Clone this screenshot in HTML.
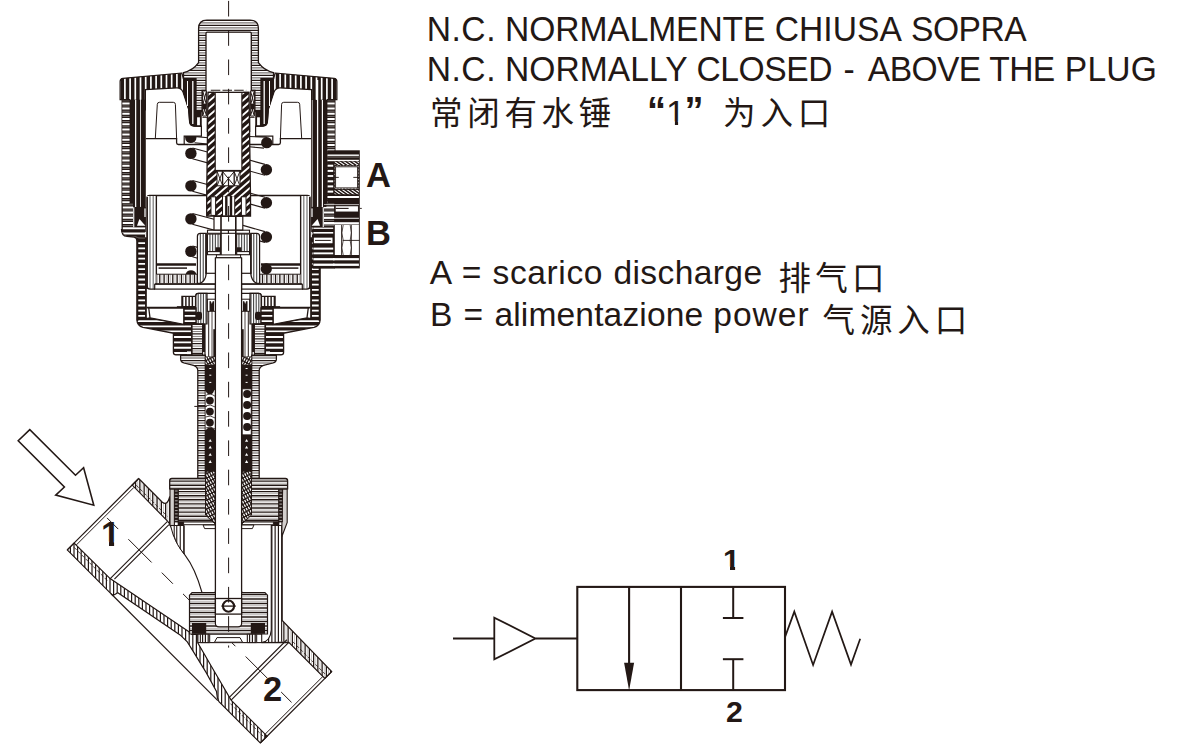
<!DOCTYPE html>
<html lang="it">
<head>
<meta charset="utf-8">
<title>N.C. NORMALMENTE CHIUSA SOPRA</title>
<style>
html,body{margin:0;padding:0;background:#fff;}
body{width:1185px;height:749px;overflow:hidden;position:relative;font-family:"Liberation Sans","Noto Sans CJK SC",sans-serif;color:#231815;}
svg{position:absolute;left:0;top:0;display:block;}
.t{position:absolute;white-space:nowrap;line-height:1;margin:0;}
.cj{font-family:"Noto Sans CJK SC","WenQuanYi Zen Hei",sans-serif;font-weight:400;}
.lb{font-family:"Liberation Sans",sans-serif;font-weight:700;}
.ln{position:absolute;left:0;width:1185px;height:1em;line-height:1;white-space:nowrap;margin:0;transform-origin:0 0;}
.ln .w{position:absolute;top:0;white-space:nowrap;}
</style>
</head>
<body>
<svg width="1185" height="749" viewBox="0 0 1185 749" fill="none" stroke="#231815" stroke-width="1.2" stroke-linejoin="miter">

<polygon points="29.8,429.6 18.2,440.8 64.4,487 55.7,495.1 93.8,505.2 83.6,467.7 75.5,475.2" fill="#fff" stroke="#231815" stroke-width="1.55" />
<clipPath id="c1"><path d="M138.67,478.53 L162.36,502.22 Q167.5,506 169.8,496.5 L169.8,524 L167.52,521.1 L132.16,485.04 Z"/></clipPath>
<path d="M138.67,478.53 L162.36,502.22 Q167.5,506 169.8,496.5 L169.8,524 L167.52,521.1 L132.16,485.04 Z" fill="#231815" stroke="none" />
<path d="M129.1,477V526M133.4,477V526M137.7,477V526M142,477V526M146.3,477V526M150.6,477V526M154.9,477V526M159.2,477V526M163.5,477V526M167.8,477V526M172.1,477V526" fill="none" stroke="#fff" stroke-width="3" clip-path="url(#c1)"/>
<path d="M129.1,477V526M133.4,477V526M137.7,477V526M142,477V526M146.3,477V526M150.6,477V526M154.9,477V526M159.2,477V526M163.5,477V526M167.8,477V526M172.1,477V526" fill="none" stroke="#b5b0ae" stroke-width="0.7" clip-path="url(#c1)"/>
<path d="M138.67,478.53 L162.36,502.22 Q167.5,506 169.8,496.5 L169.8,524 L167.52,521.1 L132.16,485.04 Z" fill="none" stroke="#231815" stroke-width="1.15" />
<clipPath id="c2"><path d="M67.25,549.95L112.86,595.56L115.2,594.3L117.8,592.8L180.1,634.9L187.3,641.9L193.2,651.4L206.2,672.6L216.5,691.5L217.3,697.5L218.93,701.62L260.29,742.99L267.15,736.13L231.09,700.07L210.9,665.5L197.9,643.1L197.9,634.5L192,634.5L189.3,631.9L110.1,578.6L74.11,543.09Z"/></clipPath>
<path d="M67.25,549.95L112.86,595.56L115.2,594.3L117.8,592.8L180.1,634.9L187.3,641.9L193.2,651.4L206.2,672.6L216.5,691.5L217.3,697.5L218.93,701.62L260.29,742.99L267.15,736.13L231.09,700.07L210.9,665.5L197.9,643.1L197.9,634.5L192,634.5L189.3,631.9L110.1,578.6L74.11,543.09Z" fill="#231815" stroke="none" />
<path d="M65,543V745M68.6,543V745M72.2,543V745M75.8,543V745M79.4,543V745M83,543V745M86.6,543V745M90.2,543V745M93.8,543V745M97.4,543V745M101,543V745M104.6,543V745M108.2,543V745M111.8,543V745M115.4,543V745M119,543V745M122.6,543V745M126.2,543V745M129.8,543V745M133.4,543V745M137,543V745M140.6,543V745M144.2,543V745M147.8,543V745M151.4,543V745M155,543V745M158.6,543V745M162.2,543V745M165.8,543V745M169.4,543V745M173,543V745M176.6,543V745M180.2,543V745M183.8,543V745M187.4,543V745M191,543V745M194.6,543V745M198.2,543V745M201.8,543V745M205.4,543V745M209,543V745M212.6,543V745M216.2,543V745M219.8,543V745M223.4,543V745M227,543V745M230.6,543V745M234.2,543V745M237.8,543V745M241.4,543V745M245,543V745M248.6,543V745M252.2,543V745M255.8,543V745M259.4,543V745M263,543V745" fill="none" stroke="#fff" stroke-width="2.4" clip-path="url(#c2)"/>
<path d="M67.25,549.95L112.86,595.56L115.2,594.3L117.8,592.8L180.1,634.9L187.3,641.9L193.2,651.4L206.2,672.6L216.5,691.5L217.3,697.5L218.93,701.62L260.29,742.99L267.15,736.13L231.09,700.07L210.9,665.5L197.9,643.1L197.9,634.5L192,634.5L189.3,631.9L110.1,578.6L74.11,543.09Z" fill="none" stroke="#231815" stroke-width="1.15" />
<line x1="111.09" y1="593.79" x2="217.86" y2="700.56" stroke="#231815" stroke-width="1.2" />
<clipPath id="c3"><path d="M271.3,525.5 L282.2,525.5 L282.2,620.5 L282.2,634 L289.5,641.5 L261.7,642.6 Q270.3,641.5 271.3,630 Z"/></clipPath>
<path d="M271.3,525.5 L282.2,525.5 L282.2,620.5 L282.2,634 L289.5,641.5 L261.7,642.6 Q270.3,641.5 271.3,630 Z" fill="#231815" stroke="none" />
<path d="M260.42,524V644M263.69,524V644M266.96,524V644M270.23,524V644M273.5,524V644M276.77,524V644M280.04,524V644M283.31,524V644M286.58,524V644M289.85,524V644M293.12,524V644" fill="none" stroke="#fff" stroke-width="2.1" clip-path="url(#c3)"/>
<clipPath id="c4"><path d="M282.2,620.5 L331.71,671.57 L324.85,678.43 L288.79,642.37 L282.2,641.6 Z"/></clipPath>
<path d="M282.2,620.5 L331.71,671.57 L324.85,678.43 L288.79,642.37 L282.2,641.6 Z" fill="#231815" stroke="none" />
<path d="M281.75,619V679M286,619V679M290.25,619V679M294.5,619V679M298.75,619V679M303,619V679M307.25,619V679M311.5,619V679M315.75,619V679M320,619V679M324.25,619V679M328.5,619V679M332.75,619V679M337,619V679" fill="none" stroke="#fff" stroke-width="3" clip-path="url(#c4)"/>
<path d="M281.75,619V679M286,619V679M290.25,619V679M294.5,619V679M298.75,619V679M303,619V679M307.25,619V679M311.5,619V679M315.75,619V679M320,619V679M324.25,619V679M328.5,619V679M332.75,619V679M337,619V679" fill="none" stroke="#b5b0ae" stroke-width="0.7" clip-path="url(#c4)"/>
<path d="M271.3,525.5 L282.2,525.5 L282.2,620.5 L331.71,671.57 L324.85,678.43 L288.79,642.37 L261.7,642.6 Q270.3,641.5 271.3,630 Z" fill="none" stroke="#231815" stroke-width="1.15" />
<line x1="136.26" y1="485.18" x2="167.38" y2="516.29" stroke="#231815" stroke-width="0.8" stroke-dasharray="3.6,1.8"/>
<line x1="74.11" y1="547.33" x2="107.34" y2="580.57" stroke="#231815" stroke-width="0.8" stroke-dasharray="3.6,1.8"/>
<line x1="292.54" y1="641.45" x2="325.06" y2="673.98" stroke="#231815" stroke-width="0.8" stroke-dasharray="3.6,1.8"/>
<line x1="230.38" y1="703.6" x2="262.91" y2="736.13" stroke="#231815" stroke-width="0.8" stroke-dasharray="3.6,1.8"/>
<line x1="67.25" y1="549.95" x2="138.67" y2="478.53" stroke="#231815" stroke-width="1.2" />
<line x1="76.16" y1="545.14" x2="133.86" y2="487.44" stroke="#231815" stroke-width="1" />
<line x1="260.29" y1="742.99" x2="331.71" y2="671.57" stroke="#231815" stroke-width="1.2" />
<line x1="265.17" y1="734.15" x2="322.87" y2="676.45" stroke="#231815" stroke-width="1" />
<line x1="109.96" y1="578.94" x2="167.24" y2="521.66" stroke="#231815" stroke-width="1.1" />
<line x1="114.42" y1="579.15" x2="168.93" y2="524.63" stroke="#231815" stroke-width="1.1" />
<line x1="231.09" y1="700.07" x2="288.79" y2="642.37" stroke="#231815" stroke-width="1.1" />
<line x1="229.53" y1="697.1" x2="286.88" y2="639.75" stroke="#231815" stroke-width="1.1" />
<path d="M169.8,524 L171.2,528 Q174,541 185.2,555.4 Q195,568 202,592.5" fill="none" stroke="#231815" stroke-width="1.1" />
<clipPath id="c5"><path d="M174.2,525.5 L184.2,525.5 L184.2,554 Q176,544 174.2,536 Z"/></clipPath>
<path d="M174.2,525.5 L184.2,525.5 L184.2,554 Q176,544 174.2,536 Z" fill="#231815" stroke="none" />
<path d="M171.5,524V556M175,524V556M178.5,524V556M182,524V556M185.5,524V556" fill="none" stroke="#fff" stroke-width="2.4" clip-path="url(#c5)"/>
<path d="M174.2,525.5 L184.2,525.5 L184.2,554 Q176,544 174.2,536 Z" fill="none" stroke="#231815" stroke-width="1" />
<line x1="107.06" y1="517.92" x2="118.23" y2="529.09" stroke="#231815" stroke-width="1" />
<line x1="128.35" y1="539.2" x2="151.61" y2="562.46" stroke="#231815" stroke-width="1" />
<line x1="161.79" y1="572.65" x2="172.89" y2="583.75" stroke="#231815" stroke-width="1" />
<line x1="183" y1="593.86" x2="194.11" y2="604.96" stroke="#231815" stroke-width="1" />
<line x1="204.01" y1="614.86" x2="214.4" y2="625.26" stroke="#231815" stroke-width="1" />
<line x1="224.51" y1="635.37" x2="235.4" y2="646.26" stroke="#231815" stroke-width="1" />
<line x1="245.65" y1="656.51" x2="267.36" y2="678.22" stroke="#231815" stroke-width="1" />
<line x1="281.15" y1="692.01" x2="291.55" y2="702.4" stroke="#231815" stroke-width="1" />
<rect x="170" y="488.9" width="4.4" height="36.6" fill="#d3cfcd" stroke="#231815" stroke-width="1.1" />
<path d="M287.2,488.9 L287.2,522.5 L281.9,536.5 L281.9,525.5 L282.6,488.9 Z" fill="#d3cfcd" stroke="#231815" stroke-width="1.1" />
<clipPath id="c6"><path d="M174.6,489.5H178.3V522H174.6Z"/></clipPath>
<path d="M174.6,489.5H178.3V522H174.6Z" fill="#231815" stroke="none" />
<path d="M173,487.73H180M173,491H180M173,494.27H180M173,497.54H180M173,500.81H180M173,504.08H180M173,507.35H180M173,510.62H180M173,513.89H180M173,517.16H180M173,520.43H180M173,523.7H180" fill="none" stroke="#fff" stroke-width="0.8" clip-path="url(#c6)" stroke-opacity="0.8"/>
<path d="M174.6,489.5H178.3V522H174.6Z" fill="none" stroke="#231815" stroke-width="0.8" />
<clipPath id="c7"><path d="M278.7,489.5H282.4V522H278.7Z"/></clipPath>
<path d="M278.7,489.5H282.4V522H278.7Z" fill="#231815" stroke="none" />
<path d="M277,487.73H284M277,491H284M277,494.27H284M277,497.54H284M277,500.81H284M277,504.08H284M277,507.35H284M277,510.62H284M277,513.89H284M277,517.16H284M277,520.43H284M277,523.7H284" fill="none" stroke="#fff" stroke-width="0.8" clip-path="url(#c7)" stroke-opacity="0.8"/>
<path d="M278.7,489.5H282.4V522H278.7Z" fill="none" stroke="#231815" stroke-width="0.8" />
<clipPath id="c8"><path d="M169.7,488.9 L169.7,480.7 Q169.7,478.5 171.9,478.5 L285.4,478.5 Q287.6,478.5 287.6,480.7 L287.6,488.9 Z"/></clipPath>
<path d="M169.7,488.9 L169.7,480.7 Q169.7,478.5 171.9,478.5 L285.4,478.5 Q287.6,478.5 287.6,480.7 L287.6,488.9 Z" fill="#231815" stroke="none" />
<path d="M168,474.95H289M168,479.05H289M168,483.15H289M168,487.25H289M168,491.35H289" fill="none" stroke="#fff" stroke-width="2.7" clip-path="url(#c8)"/>
<path d="M168,474.95H289M168,479.05H289M168,483.15H289M168,487.25H289M168,491.35H289" fill="none" stroke="#a39e9c" stroke-width="0.8" clip-path="url(#c8)"/>
<path d="M169.7,488.9 L169.7,480.7 Q169.7,478.5 171.9,478.5 L285.4,478.5 Q287.6,478.5 287.6,480.7 L287.6,488.9 Z" fill="none" stroke="#231815" stroke-width="1.3" />
<clipPath id="c9"><path d="M178.3,489.3H278.7V522H178.3Z"/></clipPath>
<path d="M178.3,489.3H278.7V522H178.3Z" fill="#231815" stroke="none" />
<path d="M177,485.45H280M177,489.55H280M177,493.65H280M177,497.75H280M177,501.85H280M177,505.95H280M177,510.05H280M177,514.15H280M177,518.25H280M177,522.35H280M177,526.45H280" fill="none" stroke="#fff" stroke-width="2.7" clip-path="url(#c9)"/>
<path d="M177,485.45H280M177,489.55H280M177,493.65H280M177,497.75H280M177,501.85H280M177,505.95H280M177,510.05H280M177,514.15H280M177,518.25H280M177,522.35H280M177,526.45H280" fill="none" stroke="#a39e9c" stroke-width="0.8" clip-path="url(#c9)"/>
<path d="M178.3,489.3H278.7V522H178.3Z" fill="none" stroke="#231815" stroke-width="1.1" />
<rect x="177.7" y="521.4" width="5.9" height="4.1" fill="#231815" stroke="none" />
<rect x="273.4" y="521.4" width="5.9" height="4.1" fill="#231815" stroke="none" />
<rect x="183.6" y="522" width="89.8" height="2.7" fill="#fff" stroke="#231815" stroke-width="1" />
<polygon points="203.1,525 253.9,525 252.4,528.6 204.6,528.6" fill="#fff" stroke="#231815" stroke-width="1" />
<clipPath id="c10"><path d="M205.5,471 L215.5,471 L215.5,524.3 L205.5,515 Z"/></clipPath>
<path d="M205.5,471 L215.5,471 L215.5,524.3 L205.5,515 Z" fill="#231815" stroke="none" />
<path d="M224.87,455.94L252.99,508.83M222.66,457.11L250.78,510M220.46,458.29L248.58,511.18M218.25,459.46L246.37,512.35M216.04,460.63L244.16,513.52M213.83,461.81L241.96,514.7M211.63,462.98L239.75,515.87M209.42,464.15L237.54,517.04M207.21,465.33L235.33,518.22M205,466.5L233.13,519.39M202.8,467.67L230.92,520.56M200.59,468.85L228.71,521.74M198.38,470.02L226.5,522.91M196.17,471.2L224.3,524.09M193.97,472.37L222.09,525.26M191.76,473.54L219.88,526.43M189.55,474.72L217.67,527.61M187.34,475.89L215.47,528.78M185.14,477.06L213.26,529.95M182.93,478.24L211.05,531.13M180.72,479.41L208.84,532.3M178.52,480.59L206.64,533.48M176.31,481.76L204.43,534.65M174.1,482.93L202.22,535.82M171.89,484.11L200.02,537M169.69,485.28L197.81,538.17M167.48,486.45L195.6,539.34" fill="none" stroke="#fff" stroke-width="1.25" clip-path="url(#c10)" stroke-dasharray="2.6,1.3"/>
<path d="M205.5,471 L215.5,471 L215.5,524.3 L205.5,515 Z" fill="none" stroke="#231815" stroke-width="1" />
<clipPath id="c11"><path d="M241.5,471 L251.5,471 L251.5,515 L241.5,524.3 Z"/></clipPath>
<path d="M241.5,471 L251.5,471 L251.5,515 L241.5,524.3 Z" fill="#231815" stroke="none" />
<path d="M260.87,455.94L288.99,508.83M258.66,457.11L286.78,510M256.46,458.29L284.58,511.18M254.25,459.46L282.37,512.35M252.04,460.63L280.16,513.52M249.83,461.81L277.96,514.7M247.63,462.98L275.75,515.87M245.42,464.15L273.54,517.04M243.21,465.33L271.33,518.22M241,466.5L269.13,519.39M238.8,467.67L266.92,520.56M236.59,468.85L264.71,521.74M234.38,470.02L262.5,522.91M232.17,471.2L260.3,524.09M229.97,472.37L258.09,525.26M227.76,473.54L255.88,526.43M225.55,474.72L253.67,527.61M223.34,475.89L251.47,528.78M221.14,477.06L249.26,529.95M218.93,478.24L247.05,531.13M216.72,479.41L244.84,532.3M214.52,480.59L242.64,533.48M212.31,481.76L240.43,534.65M210.1,482.93L238.22,535.82M207.89,484.11L236.02,537M205.69,485.28L233.81,538.17M203.48,486.45L231.6,539.34" fill="none" stroke="#fff" stroke-width="1.25" clip-path="url(#c11)" stroke-dasharray="2.6,1.3"/>
<path d="M241.5,471 L251.5,471 L251.5,515 L241.5,524.3 Z" fill="none" stroke="#231815" stroke-width="1" />
<clipPath id="c12"><path d="M181.9,296.3H195.8V306.6H181.9Z"/></clipPath>
<path d="M181.9,296.3H195.8V306.6H181.9Z" fill="#231815" stroke="none" />
<path d="M181,295V308M184.25,295V308M187.5,295V308M190.75,295V308M194,295V308M197.25,295V308" fill="none" stroke="#fff" stroke-width="1.8" clip-path="url(#c12)"/>
<path d="M181.9,296.3H195.8V306.6H181.9Z" fill="none" stroke="#231815" stroke-width="1.2" />
<clipPath id="c13"><path d="M184.5,307.8H196V324.3H184.5Z"/></clipPath>
<path d="M184.5,307.8H196V324.3H184.5Z" fill="#231815" stroke="none" />
<path d="M183,305.4H198M183,310.7H198M183,316H198M183,321.3H198M183,326.6H198" fill="none" stroke="#fff" stroke-width="2.2" clip-path="url(#c13)"/>
<path d="M184.5,307.8H196V324.3H184.5Z" fill="none" stroke="#231815" stroke-width="1" />
<rect x="176.9" y="306.2" width="19.1" height="2.8" fill="#231815" stroke="none" />
<path d="M195.8,324 L195.8,296 Q195.8,293.4 198.4,293.4 L215.6,293.4 L215.6,357 L205,357 L205,324 Z" fill="#fff" stroke="#231815" stroke-width="1.2" />
<clipPath id="c14"><path d="M195.8,324 L195.8,296 Q195.8,293.4 198.4,293.4 L207,293.4 L207,324 Z"/></clipPath>
<path d="M195.8,324 L195.8,296 Q195.8,293.4 198.4,293.4 L207,293.4 L207,324 Z" fill="#444" stroke="none" />
<path d="M194.3,292V326M196.9,292V326M199.5,292V326M202.1,292V326M204.7,292V326M207.3,292V326" fill="none" stroke="#fff" stroke-width="1.5" clip-path="url(#c14)"/>
<path d="M195.8,324 L195.8,296 Q195.8,293.4 198.4,293.4 L207,293.4 L207,324 Z" fill="none" stroke="#231815" stroke-width="1.2" />
<rect x="195.8" y="311.7" width="6.2" height="8.3" fill="#231815" stroke="none" rx="2.2" />
<rect x="207.4" y="299.2" width="8.1" height="12.1" fill="#fff" stroke="#231815" stroke-width="1" />
<path d="M209.5,301.2 L214,301.2 L214,311 L209.5,311 Z" fill="#231815" stroke="none" />
<path d="M210.7,300.6 L211.8,304 L212.9,300.6 Z" fill="#fff" stroke="none" />
<clipPath id="c15"><path d="M191.9,323.8H202.6V355H191.9Z"/></clipPath>
<path d="M191.9,323.8H202.6V355H191.9Z" fill="#231815" stroke="none" />
<path d="M190,321.85H204M190,326.7H204M190,331.55H204M190,336.4H204M190,341.25H204M190,346.1H204M190,350.95H204M190,355.8H204M190,360.65H204" fill="none" stroke="#fff" stroke-width="3.6" clip-path="url(#c15)"/>
<path d="M190,321.85H204M190,326.7H204M190,331.55H204M190,336.4H204M190,341.25H204M190,346.1H204M190,350.95H204M190,355.8H204M190,360.65H204" fill="none" stroke="#7a7371" stroke-width="0.9" clip-path="url(#c15)"/>
<path d="M191.9,323.8H202.6V355H191.9Z" fill="none" stroke="#231815" stroke-width="1.1" />
<rect x="202.8" y="323.6" width="2.2" height="28.4" fill="#231815" stroke="none" />
<line x1="208.7" y1="311" x2="208.7" y2="357" stroke="#231815" stroke-width="1" />
<line x1="212" y1="311" x2="212" y2="357" stroke="#231815" stroke-width="0.8" />
<rect x="213.3" y="329.2" width="2.3" height="27.8" fill="#231815" stroke="none" />
<clipPath id="c16"><path d="M173.4,333 L191.7,333 L191.7,354.8 L176,354.8 Q173.4,354.8 173.4,352.2 Z"/></clipPath>
<path d="M173.4,333 L191.7,333 L191.7,354.8 L176,354.8 Q173.4,354.8 173.4,352.2 Z" fill="#231815" stroke="none" />
<path d="M172,331.65H193M172,337H193M172,342.35H193M172,347.7H193M172,353.05H193M172,358.4H193" fill="none" stroke="#fff" stroke-width="1.9" clip-path="url(#c16)"/>
<path d="M173.4,333 L191.7,333 L191.7,354.8 L176,354.8 Q173.4,354.8 173.4,352.2 Z" fill="none" stroke="#231815" stroke-width="1.3" />
<rect x="187" y="351.4" width="4" height="2.8" fill="#fff" stroke="none" />
<clipPath id="c17"><path d="M180.6,355 L205.3,355 L205.3,478.4 L197.8,478.4 L197.8,370.5 Q197.6,367 193.5,365.4 L184,363 Q180.6,362 180.6,359 Z"/></clipPath>
<path d="M180.6,355 L205.3,355 L205.3,478.4 L197.8,478.4 L197.8,370.5 Q197.6,367 193.5,365.4 L184,363 Q180.6,362 180.6,359 Z" fill="#231815" stroke="none" />
<path d="M179,353H207M179,358H207M179,363H207M179,368H207M179,373H207M179,378H207M179,383H207M179,388H207M179,393H207M179,398H207M179,403H207M179,408H207M179,413H207M179,418H207M179,423H207M179,428H207M179,433H207M179,438H207M179,443H207M179,448H207M179,453H207M179,458H207M179,463H207M179,468H207M179,473H207M179,478H207M179,483H207" fill="none" stroke="#fff" stroke-width="3.75" clip-path="url(#c17)"/>
<path d="M179,353H207M179,358H207M179,363H207M179,368H207M179,373H207M179,378H207M179,383H207M179,388H207M179,393H207M179,398H207M179,403H207M179,408H207M179,413H207M179,418H207M179,423H207M179,428H207M179,433H207M179,438H207M179,443H207M179,448H207M179,453H207M179,458H207M179,463H207M179,468H207M179,473H207M179,478H207M179,483H207" fill="none" stroke="#5a5351" stroke-width="1" clip-path="url(#c17)"/>
<path d="M180.6,355 L205.3,355 L205.3,478.4 L197.8,478.4 L197.8,370.5 Q197.6,367 193.5,365.4 L184,363 Q180.6,362 180.6,359 Z" fill="none" stroke="#231815" stroke-width="1.25" />
<rect x="205.1" y="364.4" width="10.5" height="107.1" fill="#231815" stroke="none" />
<clipPath id="c18"><path d="M205.6,356.8H215.4V364.6H205.6Z"/></clipPath>
<path d="M205.6,356.8H215.4V364.6H205.6Z" fill="#231815" stroke="none" />
<path d="M217,346.73L225.55,362.81M214.79,347.91L223.34,363.99M212.58,349.08L221.13,365.16M210.37,350.25L218.93,366.33M208.17,351.43L216.72,367.51M205.96,352.6L214.51,368.68M203.75,353.77L212.3,369.85M201.55,354.95L210.1,371.03M199.34,356.12L207.89,372.2M197.13,357.3L205.68,373.38M194.92,358.47L203.47,374.55" fill="none" stroke="#fff" stroke-width="1.25" clip-path="url(#c18)" stroke-dasharray="2.6,1.3"/>
<g transform="translate(457,0) scale(-1,1)">
<clipPath id="n12"><path d="M181.9,296.3H195.8V306.6H181.9Z"/></clipPath>
<path d="M181.9,296.3H195.8V306.6H181.9Z" fill="#231815" stroke="none" />
<path d="M181,295V308M184.25,295V308M187.5,295V308M190.75,295V308M194,295V308M197.25,295V308" fill="none" stroke="#fff" stroke-width="1.8" clip-path="url(#n12)"/>
<path d="M181.9,296.3H195.8V306.6H181.9Z" fill="none" stroke="#231815" stroke-width="1.2" />
<clipPath id="n13"><path d="M184.5,307.8H196V324.3H184.5Z"/></clipPath>
<path d="M184.5,307.8H196V324.3H184.5Z" fill="#231815" stroke="none" />
<path d="M183,305.4H198M183,310.7H198M183,316H198M183,321.3H198M183,326.6H198" fill="none" stroke="#fff" stroke-width="2.2" clip-path="url(#n13)"/>
<path d="M184.5,307.8H196V324.3H184.5Z" fill="none" stroke="#231815" stroke-width="1" />
<rect x="176.9" y="306.2" width="19.1" height="2.8" fill="#231815" stroke="none" />
<path d="M195.8,324 L195.8,296 Q195.8,293.4 198.4,293.4 L215.6,293.4 L215.6,357 L205,357 L205,324 Z" fill="#fff" stroke="#231815" stroke-width="1.2" />
<clipPath id="n14"><path d="M195.8,324 L195.8,296 Q195.8,293.4 198.4,293.4 L207,293.4 L207,324 Z"/></clipPath>
<path d="M195.8,324 L195.8,296 Q195.8,293.4 198.4,293.4 L207,293.4 L207,324 Z" fill="#444" stroke="none" />
<path d="M194.3,292V326M196.9,292V326M199.5,292V326M202.1,292V326M204.7,292V326M207.3,292V326" fill="none" stroke="#fff" stroke-width="1.5" clip-path="url(#n14)"/>
<path d="M195.8,324 L195.8,296 Q195.8,293.4 198.4,293.4 L207,293.4 L207,324 Z" fill="none" stroke="#231815" stroke-width="1.2" />
<rect x="195.8" y="311.7" width="6.2" height="8.3" fill="#231815" stroke="none" rx="2.2" />
<rect x="207.4" y="299.2" width="8.1" height="12.1" fill="#fff" stroke="#231815" stroke-width="1" />
<path d="M209.5,301.2 L214,301.2 L214,311 L209.5,311 Z" fill="#231815" stroke="none" />
<path d="M210.7,300.6 L211.8,304 L212.9,300.6 Z" fill="#fff" stroke="none" />
<clipPath id="n15"><path d="M191.9,323.8H202.6V355H191.9Z"/></clipPath>
<path d="M191.9,323.8H202.6V355H191.9Z" fill="#231815" stroke="none" />
<path d="M190,321.85H204M190,326.7H204M190,331.55H204M190,336.4H204M190,341.25H204M190,346.1H204M190,350.95H204M190,355.8H204M190,360.65H204" fill="none" stroke="#fff" stroke-width="3.6" clip-path="url(#n15)"/>
<path d="M190,321.85H204M190,326.7H204M190,331.55H204M190,336.4H204M190,341.25H204M190,346.1H204M190,350.95H204M190,355.8H204M190,360.65H204" fill="none" stroke="#7a7371" stroke-width="0.9" clip-path="url(#n15)"/>
<path d="M191.9,323.8H202.6V355H191.9Z" fill="none" stroke="#231815" stroke-width="1.1" />
<rect x="202.8" y="323.6" width="2.2" height="28.4" fill="#231815" stroke="none" />
<line x1="208.7" y1="311" x2="208.7" y2="357" stroke="#231815" stroke-width="1" />
<line x1="212" y1="311" x2="212" y2="357" stroke="#231815" stroke-width="0.8" />
<rect x="213.3" y="329.2" width="2.3" height="27.8" fill="#231815" stroke="none" />
<clipPath id="n16"><path d="M173.4,333 L191.7,333 L191.7,354.8 L176,354.8 Q173.4,354.8 173.4,352.2 Z"/></clipPath>
<path d="M173.4,333 L191.7,333 L191.7,354.8 L176,354.8 Q173.4,354.8 173.4,352.2 Z" fill="#231815" stroke="none" />
<path d="M172,331.65H193M172,337H193M172,342.35H193M172,347.7H193M172,353.05H193M172,358.4H193" fill="none" stroke="#fff" stroke-width="1.9" clip-path="url(#n16)"/>
<path d="M173.4,333 L191.7,333 L191.7,354.8 L176,354.8 Q173.4,354.8 173.4,352.2 Z" fill="none" stroke="#231815" stroke-width="1.3" />
<rect x="187" y="351.4" width="4" height="2.8" fill="#fff" stroke="none" />
<clipPath id="n17"><path d="M180.6,355 L205.3,355 L205.3,478.4 L197.8,478.4 L197.8,370.5 Q197.6,367 193.5,365.4 L184,363 Q180.6,362 180.6,359 Z"/></clipPath>
<path d="M180.6,355 L205.3,355 L205.3,478.4 L197.8,478.4 L197.8,370.5 Q197.6,367 193.5,365.4 L184,363 Q180.6,362 180.6,359 Z" fill="#231815" stroke="none" />
<path d="M179,353H207M179,358H207M179,363H207M179,368H207M179,373H207M179,378H207M179,383H207M179,388H207M179,393H207M179,398H207M179,403H207M179,408H207M179,413H207M179,418H207M179,423H207M179,428H207M179,433H207M179,438H207M179,443H207M179,448H207M179,453H207M179,458H207M179,463H207M179,468H207M179,473H207M179,478H207M179,483H207" fill="none" stroke="#fff" stroke-width="3.75" clip-path="url(#n17)"/>
<path d="M179,353H207M179,358H207M179,363H207M179,368H207M179,373H207M179,378H207M179,383H207M179,388H207M179,393H207M179,398H207M179,403H207M179,408H207M179,413H207M179,418H207M179,423H207M179,428H207M179,433H207M179,438H207M179,443H207M179,448H207M179,453H207M179,458H207M179,463H207M179,468H207M179,473H207M179,478H207M179,483H207" fill="none" stroke="#5a5351" stroke-width="1" clip-path="url(#n17)"/>
<path d="M180.6,355 L205.3,355 L205.3,478.4 L197.8,478.4 L197.8,370.5 Q197.6,367 193.5,365.4 L184,363 Q180.6,362 180.6,359 Z" fill="none" stroke="#231815" stroke-width="1.25" />
<rect x="205.1" y="364.4" width="10.5" height="107.1" fill="#231815" stroke="none" />
<clipPath id="n18"><path d="M205.6,356.8H215.4V364.6H205.6Z"/></clipPath>
<path d="M205.6,356.8H215.4V364.6H205.6Z" fill="#231815" stroke="none" />
<path d="M217,346.73L225.55,362.81M214.79,347.91L223.34,363.99M212.58,349.08L221.13,365.16M210.37,350.25L218.93,366.33M208.17,351.43L216.72,367.51M205.96,352.6L214.51,368.68M203.75,353.77L212.3,369.85M201.55,354.95L210.1,371.03M199.34,356.12L207.89,372.2M197.13,357.3L205.68,373.38M194.92,358.47L203.47,374.55" fill="none" stroke="#fff" stroke-width="1.25" clip-path="url(#n18)" stroke-dasharray="2.6,1.3"/>
</g>
<path d="M205.6,391 Q210,396 215.2,389.5 L215.2,430.3 Q210,424 205.6,430.3 Z" fill="#fff" stroke="none" />
<circle cx="209.9" cy="390.2" r="3.9" fill="#231815" stroke="none"/>
<circle cx="209.9" cy="400.6" r="3.9" fill="#231815" stroke="none"/>
<circle cx="209.9" cy="411.6" r="3.9" fill="#231815" stroke="none"/>
<circle cx="209.9" cy="422.6" r="3.9" fill="#231815" stroke="none"/>
<path d="M205.6,395.5 Q210,392.5 215.2,396.3 M205.6,406 Q210,403.5 215.2,407 M205.6,417 Q210,414.5 215.2,418 M205.6,428 Q210,425.5 215.2,429" fill="none" stroke="#231815" stroke-width="0.8" />
<rect x="242.1" y="388.8" width="9.2" height="46.1" fill="#fff" stroke="#231815" stroke-width="1" />
<circle cx="247.1" cy="394.1" r="4" fill="#231815" stroke="none"/>
<circle cx="247.1" cy="405.1" r="4" fill="#231815" stroke="none"/>
<circle cx="247.1" cy="415.9" r="4" fill="#231815" stroke="none"/>
<circle cx="247.1" cy="427" r="4" fill="#231815" stroke="none"/>
<rect x="209.3" y="368" width="2" height="1" fill="#fff" stroke="none" />
<rect x="245.6" y="368" width="2" height="1" fill="#fff" stroke="none" />
<rect x="209.3" y="374.7" width="2" height="1" fill="#fff" stroke="none" />
<rect x="245.6" y="374.7" width="2" height="1" fill="#fff" stroke="none" />
<rect x="209.3" y="381.9" width="2" height="1" fill="#fff" stroke="none" />
<rect x="245.6" y="381.9" width="2" height="1" fill="#fff" stroke="none" />
<polygon points="210.2,439 208.6,441.8 211.8,441.8" fill="#fff" stroke="none" />
<polygon points="246.6,439 245,441.8 248.2,441.8" fill="#fff" stroke="none" />
<polygon points="210.2,445.8 208.6,448.6 211.8,448.6" fill="#fff" stroke="none" />
<polygon points="246.6,445.8 245,448.6 248.2,448.6" fill="#fff" stroke="none" />
<polygon points="210.2,452.9 208.6,455.7 211.8,455.7" fill="#fff" stroke="none" />
<polygon points="246.6,452.9 245,455.7 248.2,455.7" fill="#fff" stroke="none" />
<polygon points="210.2,460.1 208.6,462.9 211.8,462.9" fill="#fff" stroke="none" />
<polygon points="246.6,460.1 245,462.9 248.2,462.9" fill="#fff" stroke="none" />
<line x1="194.3" y1="406.4" x2="206.8" y2="406.4" stroke="#231815" stroke-width="1" />
<polygon points="196.8,136.6 208,137.6 208,144.2 195.3,142.9" fill="#fff" stroke="none" />
<clipPath id="fc1"><rect x="180" y="136.1" width="20" height="10"/></clipPath>
<circle cx="190.8" cy="137.4" r="5.7" fill="#231815" stroke="none" clip-path="url(#fc1)"/>
<line x1="196.3" y1="136.6" x2="208" y2="137.7" stroke="#231815" stroke-width="1.1" />
<line x1="194.5" y1="142.8" x2="208" y2="144.1" stroke="#231815" stroke-width="1.1" />
<polygon points="249,136.4 266.7,137 264,148.2 249,146.9" fill="#fff" stroke="none" />
<line x1="249" y1="136.5" x2="266.7" y2="137.1" stroke="#231815" stroke-width="1.1" />
<line x1="249" y1="146.8" x2="264" y2="148.1" stroke="#231815" stroke-width="1.1" />
<circle cx="266.7" cy="142.7" r="5.6" fill="#231815" stroke="none"/>
<path d="M185.6,274.3 A5.6,5.6 0 0 1 196.4,274.3 Z" fill="#231815" stroke="none" />
<circle cx="266.3" cy="268.9" r="5.6" fill="#231815" stroke="none"/>
<polygon points="192.4,147.8 214,153.7 214,164.5 192.4,158.7" fill="#fff" stroke="none" />
<line x1="192.4" y1="148" x2="214" y2="153.8" stroke="#231815" stroke-width="1.1" />
<line x1="192.4" y1="158.8" x2="214" y2="164.6" stroke="#231815" stroke-width="1.1" />
<circle cx="190.9" cy="153.4" r="5.7" fill="#231815" stroke="none"/>
<polygon points="192.4,180.3 214,186.2 214,197 192.4,191.2" fill="#fff" stroke="none" />
<line x1="192.4" y1="180.5" x2="214" y2="186.3" stroke="#231815" stroke-width="1.1" />
<line x1="192.4" y1="191.3" x2="214" y2="197.1" stroke="#231815" stroke-width="1.1" />
<circle cx="190.9" cy="185.9" r="5.7" fill="#231815" stroke="none"/>
<polygon points="192.4,213.3 214,219.2 214,230 192.4,224.2" fill="#fff" stroke="none" />
<line x1="192.4" y1="213.5" x2="214" y2="219.3" stroke="#231815" stroke-width="1.1" />
<line x1="192.4" y1="224.3" x2="214" y2="230.1" stroke="#231815" stroke-width="1.1" />
<circle cx="190.9" cy="218.9" r="5.7" fill="#231815" stroke="none"/>
<polygon points="192.4,245.8 197.6,247.3 197.6,258.1 192.4,256.7" fill="#fff" stroke="none" />
<line x1="192.4" y1="246" x2="197.6" y2="247.4" stroke="#231815" stroke-width="1.1" />
<line x1="192.4" y1="256.8" x2="197.6" y2="258.2" stroke="#231815" stroke-width="1.1" />
<circle cx="190.9" cy="251.4" r="5.7" fill="#231815" stroke="none"/>
<polygon points="243,157.9 264.9,164.2 264.9,175.2 243,169.3" fill="#fff" stroke="none" />
<line x1="243" y1="158.2" x2="264.9" y2="164.4" stroke="#231815" stroke-width="1.1" />
<line x1="243" y1="169.2" x2="264.9" y2="175.2" stroke="#231815" stroke-width="1.1" />
<circle cx="266.4" cy="169.8" r="5.7" fill="#231815" stroke="none"/>
<polygon points="243,190.8 264.9,197.1 264.9,208.1 243,202.2" fill="#fff" stroke="none" />
<line x1="243" y1="191.1" x2="264.9" y2="197.3" stroke="#231815" stroke-width="1.1" />
<line x1="243" y1="202.1" x2="264.9" y2="208.1" stroke="#231815" stroke-width="1.1" />
<circle cx="266.4" cy="202.7" r="5.7" fill="#231815" stroke="none"/>
<polygon points="243,225.1 264.9,231.4 264.9,242.4 243,236.5" fill="#fff" stroke="none" />
<line x1="243" y1="225.4" x2="264.9" y2="231.6" stroke="#231815" stroke-width="1.1" />
<line x1="243" y1="236.4" x2="264.9" y2="242.4" stroke="#231815" stroke-width="1.1" />
<circle cx="266.4" cy="237" r="5.7" fill="#231815" stroke="none"/>
<clipPath id="c19"><path d="M181.8,73 L123,78.3 Q120.1,78.6 120.1,81.5 L120.1,99.7 L129.6,99.7 L129.6,110 L145.4,110 L145.4,89.6 L176.9,87.9 Q181,87.8 183,92 L188.6,109 L189.6,122 Q190,126 194,126 L201,126.3 L201,79 L183.5,79 Z"/></clipPath>
<path d="M181.8,73 L123,78.3 Q120.1,78.6 120.1,81.5 L120.1,99.7 L129.6,99.7 L129.6,110 L145.4,110 L145.4,89.6 L176.9,87.9 Q181,87.8 183,92 L188.6,109 L189.6,122 Q190,126 194,126 L201,126.3 L201,79 L183.5,79 Z" fill="#231815" stroke="none" />
<path d="M119.7,71V128M124.9,71V128M130.1,71V128M135.3,71V128M140.5,71V128M145.7,71V128M150.9,71V128M156.1,71V128M161.3,71V128M166.5,71V128M171.7,71V128M176.9,71V128M182.1,71V128M187.3,71V128M192.5,71V128M197.7,71V128M202.9,71V128" fill="none" stroke="#fff" stroke-width="1.7" clip-path="url(#c19)"/>
<path d="M181.8,73 L123,78.3 Q120.1,78.6 120.1,81.5 L120.1,99.7 L129.6,99.7 L129.6,110 L145.4,110 L145.4,89.6 L176.9,87.9 Q181,87.8 183,92 L188.6,109 L189.6,122 Q190,126 194,126 L201,126.3 L201,79 L183.5,79 Z" fill="none" stroke="#231815" stroke-width="1.2" />
<path d="M183.5,79 L196,79 L196,124.8 L201,124.8 L201,126.3 L194,126.3 Q190,126 189.6,122 L188.6,109 L183.5,92 Z" fill="#231815" stroke="#231815" stroke-width="1" />
<line x1="187.5" y1="81" x2="187.5" y2="106" stroke="#fff" stroke-width="1" />
<line x1="192.8" y1="81" x2="192.8" y2="124" stroke="#fff" stroke-width="1.3" />
<rect x="196" y="111.6" width="5.4" height="14.1" fill="#231815" stroke="none" />
<rect x="197.1" y="117.3" width="2.8" height="7.9" fill="#fff" stroke="none" />
<path d="M202.6,91 L206.6,91 L206.6,116 L202.6,116 Z M203,92 L206.2,104 L203,115 M206.2,92 L203,104 L206.2,115" fill="none" stroke="#231815" stroke-width="1" />
<rect x="203" y="103.6" width="3" height="5.8" fill="#231815" stroke="none" />
<path d="M202.4,117.3 L207.2,117.3 L207.2,132" fill="none" stroke="#231815" stroke-width="1" />
<rect x="121.5" y="99.7" width="24.3" height="132.3" fill="#231815" stroke="none" />
<clipPath id="c20"><path d="M122.3,100.5H129.6V203.5H122.3Z"/></clipPath>
<path d="M122.3,100.5H129.6V203.5H122.3Z" fill="#231815" stroke="none" />
<path d="M121,98.2H131M121,103.4H131M121,108.6H131M121,113.8H131M121,119H131M121,124.2H131M121,129.4H131M121,134.6H131M121,139.8H131M121,145H131M121,150.2H131M121,155.4H131M121,160.6H131M121,165.8H131M121,171H131M121,176.2H131M121,181.4H131M121,186.6H131M121,191.8H131M121,197H131M121,202.2H131M121,207.4H131" fill="none" stroke="#fff" stroke-width="2" clip-path="url(#c20)"/>
<g clip-path="url(#c20)"><path d="M121,98.2H131M121,103.4H131M121,108.6H131M121,113.8H131M121,119H131M121,124.2H131M121,129.4H131M121,134.6H131M121,139.8H131M121,145H131M121,150.2H131M121,155.4H131M121,160.6H131M121,165.8H131M121,171H131M121,176.2H131M121,181.4H131M121,186.6H131M121,191.8H131M121,197H131M121,202.2H131M121,207.4H131" fill="none" stroke="#9a9594" stroke-width="0.7" transform="translate(0,2.6)"/></g>
<clipPath id="c21"><path d="M122.8,203.5H133V227H122.8Z"/></clipPath>
<path d="M122.8,203.5H133V227H122.8Z" fill="#231815" stroke="none" />
<path d="M121,202.2H134M121,207.4H134M121,212.6H134M121,217.8H134M121,223H134M121,228.2H134" fill="none" stroke="#fff" stroke-width="2" clip-path="url(#c21)"/>
<g clip-path="url(#c21)"><path d="M121,202.2H134M121,207.4H134M121,212.6H134M121,217.8H134M121,223H134M121,228.2H134" fill="none" stroke="#9a9594" stroke-width="0.7" transform="translate(0,2.6)"/></g>
<clipPath id="c22"><path d="M122.8,227 L145.1,227 L145.1,238 L134,236.6 L127,236 Q122.8,235.6 122.8,230 Z"/></clipPath>
<path d="M122.8,227 L145.1,227 L145.1,238 L134,236.6 L127,236 Q122.8,235.6 122.8,230 Z" fill="#231815" stroke="none" />
<path d="M121,223H147M121,228.2H147M121,233.4H147M121,238.6H147" fill="none" stroke="#fff" stroke-width="2" clip-path="url(#c22)"/>
<path d="M121,229 L121,238 L136.3,238 Q136.3,237.4 134,237.6 L127,237 Q121.2,236.6 121,229 Z" fill="#fff" stroke="none" />
<path d="M121.5,229 Q121.5,236 127,236.4 L134,237 Q136.9,237.4 136.9,240.5" fill="none" stroke="#231815" stroke-width="1.3" />
<line x1="135.65" y1="100" x2="135.65" y2="206.9" stroke="#fff" stroke-width="1.2" />
<line x1="140.5" y1="90" x2="140.5" y2="206.9" stroke="#fff" stroke-width="1" stroke-opacity="0.8"/>
<rect x="134.3" y="207.2" width="11.5" height="20" fill="#231815" stroke="none" />
<polygon points="139.4,219 137,225.8 145.4,225.8" fill="#fff" stroke="none" />
<rect x="144.4" y="208.4" width="1.2" height="8.6" fill="#fff" stroke="none" />
<rect x="133.2" y="207.2" width="1.1" height="19.8" fill="#fff" stroke="none" />
<clipPath id="c23"><path d="M136.9,238 L146.1,238 L146.1,318.6 L150,318 L183.8,324.4 L183.8,307.8 L196,307.8 L196,324.3 L191.6,324.3 L191.6,333 L172.5,333 L143,327.3 Q137.2,326 136.9,320 Z"/></clipPath>
<path d="M136.9,238 L146.1,238 L146.1,318.6 L150,318 L183.8,324.4 L183.8,307.8 L196,307.8 L196,324.3 L191.6,324.3 L191.6,333 L172.5,333 L143,327.3 Q137.2,326 136.9,320 Z" fill="#231815" stroke="none" />
<path d="M135,237.9H198M135,243.1H198M135,248.3H198M135,253.5H198M135,258.7H198M135,263.9H198M135,269.1H198M135,274.3H198M135,279.5H198M135,284.7H198M135,289.9H198M135,295.1H198M135,300.3H198M135,305.5H198M135,310.7H198M135,315.9H198M135,321.1H198M135,326.3H198M135,331.5H198M135,336.7H198" fill="none" stroke="#fff" stroke-width="1.8" clip-path="url(#c23)"/>
<path d="M136.9,238 L146.1,238 L146.1,318.6 L150,318 L183.8,324.4 L183.8,307.8 L196,307.8 L196,324.3 L191.6,324.3 L191.6,333 L172.5,333 L143,327.3 Q137.2,326 136.9,320 Z" fill="none" stroke="#231815" stroke-width="1.3" />
<line x1="137.6" y1="238" x2="137.6" y2="321" stroke="#231815" stroke-width="1.4" />
<line x1="145.7" y1="238" x2="145.7" y2="318" stroke="#231815" stroke-width="1.2" />
<polygon points="148.7,307.8 183.8,307.8 183.8,324.3 150,317.8" fill="#fff" stroke="#231815" stroke-width="1.3" />
<line x1="146.5" y1="307.6" x2="184" y2="307.6" stroke="#231815" stroke-width="1.6" />
<path d="M155.3,138.7 L157.3,104.3 Q157.4,102.3 159.4,102.3 L173.3,102.3 Q175.3,102.3 175.4,104.3 L176.6,138.7" fill="none" stroke="#231815" stroke-width="1" />
<path d="M145.8,138.7 L176.6,138.7 L176.6,142.7 Q176.6,144.5 178.4,144.5 L208,144.5" fill="none" stroke="#231815" stroke-width="1.3" />
<path d="M201.4,126 L201.4,136.1 L184.2,136.1 L184.2,144.5" fill="none" stroke="#231815" stroke-width="1.2" />
<path d="M147.1,289.1 L147.1,198 Q147.1,195.4 149.7,195.4 L207,195.4" fill="none" stroke="#231815" stroke-width="1.5" />
<clipPath id="c24"><path d="M147.1,196H156.9V289.1H147.1Z"/></clipPath>
<path d="M147.1,196H156.9V289.1H147.1Z" fill="#777" stroke="none" />
<path d="M145.2,195V291M148.4,195V291M151.6,195V291M154.8,195V291M158,195V291" fill="none" stroke="#fff" stroke-width="2" clip-path="url(#c24)"/>
<line x1="147.3" y1="197" x2="147.3" y2="289.1" stroke="#231815" stroke-width="1.3" />
<line x1="156.4" y1="196" x2="156.4" y2="284" stroke="#231815" stroke-width="1.3" />
<line x1="156.9" y1="264.5" x2="196" y2="264.5" stroke="#231815" stroke-width="2.3" />
<line x1="158.6" y1="268.1" x2="187" y2="268.1" stroke="#231815" stroke-width="1.5" />
<clipPath id="c25"><path d="M156.5,274.3H200.3V283.6H156.5Z"/></clipPath>
<path d="M156.5,274.3H200.3V283.6H156.5Z" fill="#231815" stroke="none" />
<path d="M153.26,273V285M157.6,273V285M161.94,273V285M166.28,273V285M170.62,273V285M174.96,273V285M179.3,273V285M183.64,273V285M187.98,273V285M192.32,273V285M196.66,273V285M201,273V285" fill="none" stroke="#fff" stroke-width="3" clip-path="url(#c25)"/>
<path d="M153.26,273V285M157.6,273V285M161.94,273V285M166.28,273V285M170.62,273V285M174.96,273V285M179.3,273V285M183.64,273V285M187.98,273V285M192.32,273V285M196.66,273V285M201,273V285" fill="none" stroke="#a39e9c" stroke-width="0.7" clip-path="url(#c25)"/>
<line x1="156.5" y1="274.2" x2="200.3" y2="274.2" stroke="#231815" stroke-width="0.9" />
<line x1="155" y1="283.9" x2="215.5" y2="283.9" stroke="#231815" stroke-width="1.3" />
<rect x="154.7" y="284.3" width="60.8" height="4.8" fill="#fff" stroke="#231815" stroke-width="1.2" />
<path d="M147.1,286 Q147.1,289.1 150,289.1 L155,289.1" fill="none" stroke="#231815" stroke-width="1.3" />
<clipPath id="c26"><path d="M197.4,236.3 Q197.4,233.3 200.4,233.3 L206.3,233.3 L206.3,273.4 Q205.5,281 200.3,283.4 L197.4,283.4 Z"/></clipPath>
<path d="M197.4,236.3 Q197.4,233.3 200.4,233.3 L206.3,233.3 L206.3,273.4 Q205.5,281 200.3,283.4 L197.4,283.4 Z" fill="#555" stroke="none" />
<path d="M196,232V285M198.9,232V285M201.8,232V285M204.7,232V285M207.6,232V285" fill="none" stroke="#fff" stroke-width="1.7" clip-path="url(#c26)"/>
<path d="M197.4,236.3 Q197.4,233.3 200.4,233.3 L206.3,233.3 L206.3,273.4 Q205.5,281 200.3,283.4 L197.4,283.4 Z" fill="none" stroke="#231815" stroke-width="1.2" />
<line x1="205.9" y1="234" x2="205.9" y2="273.4" stroke="#231815" stroke-width="1.2" />
<line x1="205.5" y1="273.3" x2="215.5" y2="273.3" stroke="#231815" stroke-width="1.2" />
<clipPath id="c27"><path d="M207.5,234.1H220.3V251.6H207.5Z"/></clipPath>
<path d="M207.5,234.1H220.3V251.6H207.5Z" fill="#444" stroke="none" />
<path d="M205.9,233V253M208.6,233V253M211.3,233V253M214,233V253M216.7,233V253M219.4,233V253M222.1,233V253" fill="none" stroke="#fff" stroke-width="1.6" clip-path="url(#c27)"/>
<path d="M207.5,234.1H220.3V251.6H207.5Z" fill="none" stroke="#231815" stroke-width="1" />
<rect x="215.6" y="247.3" width="4.7" height="4.3" fill="#231815" stroke="none" />
<rect x="207.5" y="251.6" width="12.8" height="3.1" fill="#fff" stroke="#231815" stroke-width="1.1" />
<rect x="207.5" y="230.2" width="21.1" height="3.1" fill="#fff" stroke="#231815" stroke-width="1.1" />
<g transform="translate(457,0) scale(-1,1)">
<clipPath id="m19"><path d="M181.8,73 L123,78.3 Q120.1,78.6 120.1,81.5 L120.1,99.7 L129.6,99.7 L129.6,110 L145.4,110 L145.4,89.6 L176.9,87.9 Q181,87.8 183,92 L188.6,109 L189.6,122 Q190,126 194,126 L201,126.3 L201,79 L183.5,79 Z"/></clipPath>
<path d="M181.8,73 L123,78.3 Q120.1,78.6 120.1,81.5 L120.1,99.7 L129.6,99.7 L129.6,110 L145.4,110 L145.4,89.6 L176.9,87.9 Q181,87.8 183,92 L188.6,109 L189.6,122 Q190,126 194,126 L201,126.3 L201,79 L183.5,79 Z" fill="#231815" stroke="none" />
<path d="M119.7,71V128M124.9,71V128M130.1,71V128M135.3,71V128M140.5,71V128M145.7,71V128M150.9,71V128M156.1,71V128M161.3,71V128M166.5,71V128M171.7,71V128M176.9,71V128M182.1,71V128M187.3,71V128M192.5,71V128M197.7,71V128M202.9,71V128" fill="none" stroke="#fff" stroke-width="1.7" clip-path="url(#m19)"/>
<path d="M181.8,73 L123,78.3 Q120.1,78.6 120.1,81.5 L120.1,99.7 L129.6,99.7 L129.6,110 L145.4,110 L145.4,89.6 L176.9,87.9 Q181,87.8 183,92 L188.6,109 L189.6,122 Q190,126 194,126 L201,126.3 L201,79 L183.5,79 Z" fill="none" stroke="#231815" stroke-width="1.2" />
<path d="M183.5,79 L196,79 L196,124.8 L201,124.8 L201,126.3 L194,126.3 Q190,126 189.6,122 L188.6,109 L183.5,92 Z" fill="#231815" stroke="#231815" stroke-width="1" />
<line x1="187.5" y1="81" x2="187.5" y2="106" stroke="#fff" stroke-width="1" />
<line x1="192.8" y1="81" x2="192.8" y2="124" stroke="#fff" stroke-width="1.3" />
<rect x="196" y="111.6" width="5.4" height="14.1" fill="#231815" stroke="none" />
<rect x="197.1" y="117.3" width="2.8" height="7.9" fill="#fff" stroke="none" />
<path d="M202.6,91 L206.6,91 L206.6,116 L202.6,116 Z M203,92 L206.2,104 L203,115 M206.2,92 L203,104 L206.2,115" fill="none" stroke="#231815" stroke-width="1" />
<rect x="203" y="103.6" width="3" height="5.8" fill="#231815" stroke="none" />
<path d="M202.4,117.3 L207.2,117.3 L207.2,132" fill="none" stroke="#231815" stroke-width="1" />
<rect x="121.5" y="99.7" width="24.3" height="132.3" fill="#231815" stroke="none" />
<clipPath id="m20"><path d="M122.3,100.5H129.6V203.5H122.3Z"/></clipPath>
<path d="M122.3,100.5H129.6V203.5H122.3Z" fill="#231815" stroke="none" />
<path d="M121,98.2H131M121,103.4H131M121,108.6H131M121,113.8H131M121,119H131M121,124.2H131M121,129.4H131M121,134.6H131M121,139.8H131M121,145H131M121,150.2H131M121,155.4H131M121,160.6H131M121,165.8H131M121,171H131M121,176.2H131M121,181.4H131M121,186.6H131M121,191.8H131M121,197H131M121,202.2H131M121,207.4H131" fill="none" stroke="#fff" stroke-width="2" clip-path="url(#m20)"/>
<g clip-path="url(#m20)"><path d="M121,98.2H131M121,103.4H131M121,108.6H131M121,113.8H131M121,119H131M121,124.2H131M121,129.4H131M121,134.6H131M121,139.8H131M121,145H131M121,150.2H131M121,155.4H131M121,160.6H131M121,165.8H131M121,171H131M121,176.2H131M121,181.4H131M121,186.6H131M121,191.8H131M121,197H131M121,202.2H131M121,207.4H131" fill="none" stroke="#9a9594" stroke-width="0.7" transform="translate(0,2.6)"/></g>
<clipPath id="m21"><path d="M122.8,203.5H133V227H122.8Z"/></clipPath>
<path d="M122.8,203.5H133V227H122.8Z" fill="#231815" stroke="none" />
<path d="M121,202.2H134M121,207.4H134M121,212.6H134M121,217.8H134M121,223H134M121,228.2H134" fill="none" stroke="#fff" stroke-width="2" clip-path="url(#m21)"/>
<g clip-path="url(#m21)"><path d="M121,202.2H134M121,207.4H134M121,212.6H134M121,217.8H134M121,223H134M121,228.2H134" fill="none" stroke="#9a9594" stroke-width="0.7" transform="translate(0,2.6)"/></g>
<clipPath id="m22"><path d="M122.8,227 L145.1,227 L145.1,238 L134,236.6 L127,236 Q122.8,235.6 122.8,230 Z"/></clipPath>
<path d="M122.8,227 L145.1,227 L145.1,238 L134,236.6 L127,236 Q122.8,235.6 122.8,230 Z" fill="#231815" stroke="none" />
<path d="M121,223H147M121,228.2H147M121,233.4H147M121,238.6H147" fill="none" stroke="#fff" stroke-width="2" clip-path="url(#m22)"/>
<path d="M121,229 L121,238 L136.3,238 Q136.3,237.4 134,237.6 L127,237 Q121.2,236.6 121,229 Z" fill="#fff" stroke="none" />
<path d="M121.5,229 Q121.5,236 127,236.4 L134,237 Q136.9,237.4 136.9,240.5" fill="none" stroke="#231815" stroke-width="1.3" />
<line x1="135.65" y1="100" x2="135.65" y2="206.9" stroke="#fff" stroke-width="1.2" />
<line x1="140.5" y1="90" x2="140.5" y2="206.9" stroke="#fff" stroke-width="1" stroke-opacity="0.8"/>
<rect x="134.3" y="207.2" width="11.5" height="20" fill="#231815" stroke="none" />
<polygon points="139.4,219 137,225.8 145.4,225.8" fill="#fff" stroke="none" />
<rect x="144.4" y="208.4" width="1.2" height="8.6" fill="#fff" stroke="none" />
<rect x="133.2" y="207.2" width="1.1" height="19.8" fill="#fff" stroke="none" />
<clipPath id="m23"><path d="M136.9,238 L146.1,238 L146.1,318.6 L150,318 L183.8,324.4 L183.8,307.8 L196,307.8 L196,324.3 L191.6,324.3 L191.6,333 L172.5,333 L143,327.3 Q137.2,326 136.9,320 Z"/></clipPath>
<path d="M136.9,238 L146.1,238 L146.1,318.6 L150,318 L183.8,324.4 L183.8,307.8 L196,307.8 L196,324.3 L191.6,324.3 L191.6,333 L172.5,333 L143,327.3 Q137.2,326 136.9,320 Z" fill="#231815" stroke="none" />
<path d="M135,237.9H198M135,243.1H198M135,248.3H198M135,253.5H198M135,258.7H198M135,263.9H198M135,269.1H198M135,274.3H198M135,279.5H198M135,284.7H198M135,289.9H198M135,295.1H198M135,300.3H198M135,305.5H198M135,310.7H198M135,315.9H198M135,321.1H198M135,326.3H198M135,331.5H198M135,336.7H198" fill="none" stroke="#fff" stroke-width="1.8" clip-path="url(#m23)"/>
<path d="M136.9,238 L146.1,238 L146.1,318.6 L150,318 L183.8,324.4 L183.8,307.8 L196,307.8 L196,324.3 L191.6,324.3 L191.6,333 L172.5,333 L143,327.3 Q137.2,326 136.9,320 Z" fill="none" stroke="#231815" stroke-width="1.3" />
<line x1="137.6" y1="238" x2="137.6" y2="321" stroke="#231815" stroke-width="1.4" />
<line x1="145.7" y1="238" x2="145.7" y2="318" stroke="#231815" stroke-width="1.2" />
<polygon points="148.7,307.8 183.8,307.8 183.8,324.3 150,317.8" fill="#fff" stroke="#231815" stroke-width="1.3" />
<line x1="146.5" y1="307.6" x2="184" y2="307.6" stroke="#231815" stroke-width="1.6" />
<path d="M155.3,138.7 L157.3,104.3 Q157.4,102.3 159.4,102.3 L173.3,102.3 Q175.3,102.3 175.4,104.3 L176.6,138.7" fill="none" stroke="#231815" stroke-width="1" />
<path d="M145.8,138.7 L176.6,138.7 L176.6,142.7 Q176.6,144.5 178.4,144.5 L208,144.5" fill="none" stroke="#231815" stroke-width="1.3" />
<path d="M201.4,126 L201.4,136.1 L184.2,136.1 L184.2,144.5" fill="none" stroke="#231815" stroke-width="1.2" />
<path d="M147.1,289.1 L147.1,198 Q147.1,195.4 149.7,195.4 L207,195.4" fill="none" stroke="#231815" stroke-width="1.5" />
<clipPath id="m24"><path d="M147.1,196H156.9V289.1H147.1Z"/></clipPath>
<path d="M147.1,196H156.9V289.1H147.1Z" fill="#777" stroke="none" />
<path d="M145.2,195V291M148.4,195V291M151.6,195V291M154.8,195V291M158,195V291" fill="none" stroke="#fff" stroke-width="2" clip-path="url(#m24)"/>
<line x1="147.3" y1="197" x2="147.3" y2="289.1" stroke="#231815" stroke-width="1.3" />
<line x1="156.4" y1="196" x2="156.4" y2="284" stroke="#231815" stroke-width="1.3" />
<line x1="156.9" y1="264.5" x2="196" y2="264.5" stroke="#231815" stroke-width="2.3" />
<line x1="158.6" y1="268.1" x2="187" y2="268.1" stroke="#231815" stroke-width="1.5" />
<clipPath id="m25"><path d="M156.5,274.3H200.3V283.6H156.5Z"/></clipPath>
<path d="M156.5,274.3H200.3V283.6H156.5Z" fill="#231815" stroke="none" />
<path d="M153.26,273V285M157.6,273V285M161.94,273V285M166.28,273V285M170.62,273V285M174.96,273V285M179.3,273V285M183.64,273V285M187.98,273V285M192.32,273V285M196.66,273V285M201,273V285" fill="none" stroke="#fff" stroke-width="3" clip-path="url(#m25)"/>
<path d="M153.26,273V285M157.6,273V285M161.94,273V285M166.28,273V285M170.62,273V285M174.96,273V285M179.3,273V285M183.64,273V285M187.98,273V285M192.32,273V285M196.66,273V285M201,273V285" fill="none" stroke="#a39e9c" stroke-width="0.7" clip-path="url(#m25)"/>
<line x1="156.5" y1="274.2" x2="200.3" y2="274.2" stroke="#231815" stroke-width="0.9" />
<line x1="155" y1="283.9" x2="215.5" y2="283.9" stroke="#231815" stroke-width="1.3" />
<rect x="154.7" y="284.3" width="60.8" height="4.8" fill="#fff" stroke="#231815" stroke-width="1.2" />
<path d="M147.1,286 Q147.1,289.1 150,289.1 L155,289.1" fill="none" stroke="#231815" stroke-width="1.3" />
<clipPath id="m26"><path d="M197.4,236.3 Q197.4,233.3 200.4,233.3 L206.3,233.3 L206.3,273.4 Q205.5,281 200.3,283.4 L197.4,283.4 Z"/></clipPath>
<path d="M197.4,236.3 Q197.4,233.3 200.4,233.3 L206.3,233.3 L206.3,273.4 Q205.5,281 200.3,283.4 L197.4,283.4 Z" fill="#555" stroke="none" />
<path d="M196,232V285M198.9,232V285M201.8,232V285M204.7,232V285M207.6,232V285" fill="none" stroke="#fff" stroke-width="1.7" clip-path="url(#m26)"/>
<path d="M197.4,236.3 Q197.4,233.3 200.4,233.3 L206.3,233.3 L206.3,273.4 Q205.5,281 200.3,283.4 L197.4,283.4 Z" fill="none" stroke="#231815" stroke-width="1.2" />
<line x1="205.9" y1="234" x2="205.9" y2="273.4" stroke="#231815" stroke-width="1.2" />
<line x1="205.5" y1="273.3" x2="215.5" y2="273.3" stroke="#231815" stroke-width="1.2" />
<clipPath id="m27"><path d="M207.5,234.1H220.3V251.6H207.5Z"/></clipPath>
<path d="M207.5,234.1H220.3V251.6H207.5Z" fill="#444" stroke="none" />
<path d="M205.9,233V253M208.6,233V253M211.3,233V253M214,233V253M216.7,233V253M219.4,233V253M222.1,233V253" fill="none" stroke="#fff" stroke-width="1.6" clip-path="url(#m27)"/>
<path d="M207.5,234.1H220.3V251.6H207.5Z" fill="none" stroke="#231815" stroke-width="1" />
<rect x="215.6" y="247.3" width="4.7" height="4.3" fill="#231815" stroke="none" />
<rect x="207.5" y="251.6" width="12.8" height="3.1" fill="#fff" stroke="#231815" stroke-width="1.1" />
<rect x="207.5" y="230.2" width="21.1" height="3.1" fill="#fff" stroke="#231815" stroke-width="1.1" />
</g>
<rect x="311.4" y="100" width="15" height="106.9" fill="#231815" stroke="none" />
<line x1="312.3" y1="100" x2="312.3" y2="206.9" stroke="#fff" stroke-width="0.8" stroke-opacity="0.85"/>
<line x1="317.6" y1="80" x2="317.6" y2="206.9" stroke="#fff" stroke-width="1.3" />
<line x1="322.4" y1="100" x2="322.4" y2="206.9" stroke="#fff" stroke-width="1.2" />
<clipPath id="c28"><path d="M183.5,78.6 L183.5,72.6 Q193,70.5 198.6,62.7 L198.6,28.4 Q198.6,20.1 206.9,20.1 L250.1,20.1 Q258.4,20.1 258.4,28.4 L258.4,62.7 Q264,70.5 273.5,72.6 L273.5,78.6 L261,78.6 L261,111.6 L254.9,111.6 L254.9,90.4 L251.3,90.4 L251.3,33.4 Q251.3,32.2 250.1,32.2 L207.2,32.2 Q206,32.2 206,33.4 L206,90.4 L202.1,90.4 L202.1,111.6 L196,111.6 L196,78.6 Z"/></clipPath>
<path d="M183.5,78.6 L183.5,72.6 Q193,70.5 198.6,62.7 L198.6,28.4 Q198.6,20.1 206.9,20.1 L250.1,20.1 Q258.4,20.1 258.4,28.4 L258.4,62.7 Q264,70.5 273.5,72.6 L273.5,78.6 L261,78.6 L261,111.6 L254.9,111.6 L254.9,90.4 L251.3,90.4 L251.3,33.4 Q251.3,32.2 250.1,32.2 L207.2,32.2 Q206,32.2 206,33.4 L206,90.4 L202.1,90.4 L202.1,111.6 L196,111.6 L196,78.6 Z" fill="#231815" stroke="none" />
<path d="M182,17.9H275M182,22.9H275M182,27.9H275M182,32.9H275M182,37.9H275M182,42.9H275M182,47.9H275M182,52.9H275M182,57.9H275M182,62.9H275M182,67.9H275M182,72.9H275M182,77.9H275M182,82.9H275M182,87.9H275M182,92.9H275M182,97.9H275M182,102.9H275M182,107.9H275M182,112.9H275" fill="none" stroke="#fff" stroke-width="3.75" clip-path="url(#c28)"/>
<path d="M182,17.9H275M182,22.9H275M182,27.9H275M182,32.9H275M182,37.9H275M182,42.9H275M182,47.9H275M182,52.9H275M182,57.9H275M182,62.9H275M182,67.9H275M182,72.9H275M182,77.9H275M182,82.9H275M182,87.9H275M182,92.9H275M182,97.9H275M182,102.9H275M182,107.9H275M182,112.9H275" fill="none" stroke="#5a5351" stroke-width="1" clip-path="url(#c28)"/>
<path d="M183.5,78.6 L183.5,72.6 Q193,70.5 198.6,62.7 L198.6,28.4 Q198.6,20.1 206.9,20.1 L250.1,20.1 Q258.4,20.1 258.4,28.4 L258.4,62.7 Q264,70.5 273.5,72.6 L273.5,78.6 L261,78.6 L261,111.6 L254.9,111.6 L254.9,90.4 L251.3,90.4 L251.3,33.4 Q251.3,32.2 250.1,32.2 L207.2,32.2 Q206,32.2 206,33.4 L206,90.4 L202.1,90.4 L202.1,111.6 L196,111.6 L196,78.6 Z" fill="none" stroke="#231815" stroke-width="1.3" />
<line x1="183.5" y1="78.6" x2="196" y2="78.6" stroke="#231815" stroke-width="1.3" />
<line x1="261" y1="78.6" x2="273.5" y2="78.6" stroke="#231815" stroke-width="1.3" />
<clipPath id="c29"><path d="M208,92.3 L249,92.3 L250.5,196 L250.5,216 L206.7,216 L206.7,196 Z"/></clipPath>
<path d="M208,92.3 L249,92.3 L250.5,196 L250.5,216 L206.7,216 L206.7,196 Z" fill="#231815" stroke="none" />
<path d="M127.84,143L231.12,53.22M131.4,147.1L234.68,57.31M134.96,151.2L238.25,61.41M138.52,155.29L241.81,65.51M142.09,159.39L245.37,69.61M145.65,163.49L248.93,73.71M149.21,167.59L252.5,77.8M152.77,171.69L256.06,81.9M156.34,175.78L259.62,86M159.9,179.88L263.18,90.1M163.46,183.98L266.75,94.2M167.02,188.08L270.31,98.29M170.59,192.18L273.87,102.39M174.15,196.27L277.43,106.49M177.71,200.37L281,110.59M181.27,204.47L284.56,114.69M184.84,208.57L288.12,118.79M188.4,212.67L291.68,122.88M191.96,216.77L295.24,126.98M195.52,220.86L298.81,131.08M199.09,224.96L302.37,135.18M202.65,229.06L305.93,139.28M206.21,233.16L309.49,143.37M209.77,237.26L313.06,147.47M213.33,241.35L316.62,151.57M216.9,245.45L320.18,155.67M220.46,249.55L323.74,159.77M224.02,253.65L327.31,163.86M227.58,257.75L330.87,167.96" fill="none" stroke="#fff" stroke-width="1.9" clip-path="url(#c29)"/>
<path d="M208,92.3 L249,92.3 L250.5,196 L250.5,216 L206.7,216 L206.7,196 Z" fill="none" stroke="#231815" stroke-width="1.3" />
<rect x="215.2" y="92.3" width="26.7" height="78.2" fill="#fff" stroke="#231815" stroke-width="1.2" />
<rect x="214" y="91.2" width="29" height="1.9" fill="#fff" stroke="none" />
<line x1="208" y1="92.3" x2="249" y2="92.3" stroke="#231815" stroke-width="1.2" />
<line x1="210.8" y1="90.3" x2="246.2" y2="90.3" stroke="#231815" stroke-width="1.1" stroke-dasharray="9.5,2.2"/>
<rect x="217" y="171.2" width="23" height="14.6" fill="#fff" stroke="#231815" stroke-width="1" />
<path d="M222.6,171.2V185.8M234.2,171.2V185.8" fill="none" stroke="#231815" stroke-width="1.3" />
<path d="M222.6,171.6L234.2,185.6M234.2,171.6L222.6,185.6M228.4,178.4V186" fill="none" stroke="#231815" stroke-width="1" />
<path d="M217.2,171.6L222.6,185.6M222.6,171.6L217.2,185.6M234.2,171.6L239.8,185.6M239.8,171.6L234.2,185.6" fill="none" stroke="#231815" stroke-width="0.9" />
<rect x="211" y="196.8" width="4.6" height="18.6" fill="#fff" stroke="#231815" stroke-width="1" />
<rect x="241.4" y="196.8" width="4.6" height="18.6" fill="#fff" stroke="#231815" stroke-width="1" />
<rect x="222" y="196" width="13.2" height="19.4" fill="#231815" stroke="none" />
<rect x="223" y="196.3" width="2.1" height="19.1" fill="#fff" stroke="none" />
<rect x="227.5" y="196.3" width="2.3" height="19.1" fill="#fff" stroke="none" />
<rect x="232.2" y="196.3" width="2" height="19.1" fill="#fff" stroke="none" />
<rect x="214" y="216.4" width="28.8" height="13.6" fill="#fff" stroke="#231815" stroke-width="1.2" />
<line x1="221" y1="216.4" x2="221" y2="257" stroke="#231815" stroke-width="1.6" />
<line x1="235.8" y1="216.4" x2="235.8" y2="257" stroke="#231815" stroke-width="1.6" />
<rect x="215.4" y="257.6" width="26.2" height="382.4" fill="#fff" stroke="none" />
<line x1="215.4" y1="257.6" x2="215.4" y2="627" stroke="#231815" stroke-width="1.3" />
<line x1="241.6" y1="257.6" x2="241.6" y2="627" stroke="#231815" stroke-width="1.3" />
<line x1="215.4" y1="257.6" x2="241.6" y2="257.6" stroke="#231815" stroke-width="1.3" />
<rect x="216.4" y="254.9" width="24.2" height="2.7" fill="#fff" stroke="#231815" stroke-width="1" />
<rect x="312.6" y="227" width="22.4" height="41.6" fill="#231815" stroke="none" />
<rect x="313.4" y="227.6" width="19.8" height="1.3" fill="#fff" stroke="none" />
<rect x="313.4" y="232" width="19.8" height="1.6" fill="#fff" stroke="none" />
<rect x="313.4" y="247.6" width="19.8" height="2" fill="#fff" stroke="none" />
<rect x="313.4" y="252.4" width="19.8" height="1.9" fill="#fff" stroke="none" />
<rect x="313.4" y="258.1" width="21.6" height="2.2" fill="#fff" stroke="none" />
<rect x="313.4" y="263.6" width="21.6" height="2.3" fill="#fff" stroke="none" />
<rect x="313.3" y="237.1" width="19.7" height="6.7" fill="#fff" stroke="#231815" stroke-width="1" />
<line x1="315" y1="240.4" x2="330.8" y2="240.4" stroke="#231815" stroke-width="1" />
<rect x="334.6" y="150.3" width="25.2" height="118.1" fill="#231815" stroke="none" />
<rect x="327.4" y="150.3" width="7.6" height="52.7" fill="#231815" stroke="none" />
<rect x="327.6" y="154.5" width="31.3" height="1.4" fill="#fff" stroke="none" />
<rect x="327.6" y="156.8" width="31.3" height="0.4" fill="#fff" stroke="none" />
<rect x="327.6" y="159.8" width="31.3" height="1.4" fill="#fff" stroke="none" />
<rect x="327.6" y="196" width="31.3" height="2" fill="#fff" stroke="none" />
<rect x="324" y="204.2" width="34.9" height="0.6" fill="#fff" stroke="none" />
<rect x="323.8" y="217.8" width="35.1" height="0.9" fill="#fff" stroke="none" />
<rect x="323.8" y="222.2" width="35.1" height="2.3" fill="#fff" stroke="none" />
<rect x="333" y="258.1" width="25.9" height="2.2" fill="#fff" stroke="none" />
<rect x="333" y="263.6" width="25.9" height="2.3" fill="#fff" stroke="none" />
<rect x="327.8" y="164.7" width="5.4" height="2" fill="#fff" stroke="none" />
<rect x="327.8" y="169.9" width="5.4" height="2" fill="#fff" stroke="none" />
<rect x="327.8" y="175.1" width="5.4" height="2" fill="#fff" stroke="none" />
<rect x="327.8" y="180.3" width="5.4" height="2" fill="#fff" stroke="none" />
<rect x="327.8" y="185.4" width="5.4" height="2" fill="#fff" stroke="none" />
<rect x="327.8" y="190.6" width="5.4" height="2" fill="#fff" stroke="none" />
<clipPath id="c30"><path d="M334.6,161.4H358.9V165H334.6Z"/></clipPath>
<path d="M334.6,161.4H358.9V165H334.6Z" fill="#231815" stroke="none" />
<path d="M344.7,140.01L368.72,156.83M343.21,142.14L367.23,158.96M341.72,144.27L365.74,161.09M340.23,146.4L364.24,163.22M338.74,148.53L362.75,165.35M337.25,150.66L361.26,167.48M335.75,152.79L359.77,169.61M334.26,154.92L358.28,171.74M332.77,157.05L356.79,173.87M331.28,159.18L355.3,176M329.79,161.31L353.8,178.13M328.3,163.44L352.31,180.25M326.81,165.57L350.82,182.38M325.31,167.7L349.33,184.51M323.82,169.83L347.84,186.64" fill="none" stroke="#fff" stroke-width="1.1" clip-path="url(#c30)"/>
<clipPath id="c31"><path d="M334.6,189.8H358.9V194.2H334.6Z"/></clipPath>
<path d="M334.6,189.8H358.9V194.2H334.6Z" fill="#231815" stroke="none" />
<path d="M344.54,168.9L368.88,185.94M343.05,171.03L367.39,188.07M341.56,173.16L365.9,190.2M340.07,175.29L364.4,192.33M338.58,177.42L362.91,194.46M337.08,179.55L361.42,196.59M335.59,181.68L359.93,198.72M334.1,183.81L358.44,200.85M332.61,185.94L356.95,202.98M331.12,188.07L355.46,205.11M329.63,190.2L353.97,207.24M328.14,192.33L352.47,209.37M326.65,194.46L350.98,211.5M325.15,196.59L349.49,213.63M323.66,198.72L348,215.76" fill="none" stroke="#fff" stroke-width="1.1" clip-path="url(#c31)"/>
<rect x="334.6" y="165.6" width="24" height="23.4" fill="#fff" stroke="#231815" stroke-width="0.9" stroke-dasharray="2.2,1"/>
<rect x="335.6" y="166.8" width="22" height="21.1" fill="#fff" stroke="#231815" stroke-width="0.9" />
<line x1="323.8" y1="177.4" x2="338.8" y2="177.4" stroke="#231815" stroke-width="0.9" />
<line x1="353.3" y1="177.4" x2="359.6" y2="177.4" stroke="#231815" stroke-width="0.9" />
<rect x="335.2" y="205.8" width="23.2" height="6.2" fill="#fff" stroke="#231815" stroke-width="0.9" />
<line x1="335.6" y1="208.4" x2="348.6" y2="208.4" stroke="#231815" stroke-width="1.1" />
<line x1="359.8" y1="208.4" x2="361.8" y2="208.4" stroke="#231815" stroke-width="0.9" />
<rect x="334.8" y="225" width="6.3" height="30" fill="#fff" stroke="none" />
<rect x="341.9" y="225" width="9.4" height="30" fill="#fff" stroke="none" />
<rect x="352" y="225" width="6.9" height="30" fill="#fff" stroke="none" />
<path d="M343.2,225 Q340.6,233 343.2,240.4 Q340.6,248 343.2,255 M350.2,225 Q352.4,233 350.2,240.4 Q352.4,248 350.2,255" fill="none" stroke="#231815" stroke-width="0.8" />
<line x1="342.6" y1="240.4" x2="359.4" y2="240.4" stroke="#231815" stroke-width="0.9" />
<clipPath id="c32"><path d="M189.5,634 L189.5,595.2 L192.1,592.6 L264.9,592.6 L267.5,595.2 L267.5,634 Z"/></clipPath>
<path d="M189.5,634 L189.5,595.2 L192.1,592.6 L264.9,592.6 L267.5,595.2 L267.5,634 Z" fill="#231815" stroke="none" />
<path d="M188,587.75H269M188,592.25H269M188,596.75H269M188,601.25H269M188,605.75H269M188,610.25H269M188,614.75H269M188,619.25H269M188,623.75H269M188,628.25H269M188,632.75H269M188,637.25H269" fill="none" stroke="#fff" stroke-width="3" clip-path="url(#c32)"/>
<path d="M188,587.75H269M188,592.25H269M188,596.75H269M188,601.25H269M188,605.75H269M188,610.25H269M188,614.75H269M188,619.25H269M188,623.75H269M188,628.25H269M188,632.75H269M188,637.25H269" fill="none" stroke="#a39e9c" stroke-width="0.8" clip-path="url(#c32)"/>
<path d="M189.5,634 L189.5,595.2 L192.1,592.6 L264.9,592.6 L267.5,595.2 L267.5,634 Z" fill="none" stroke="#231815" stroke-width="1.2" />
<rect x="192" y="623" width="14.2" height="10.8" fill="#231815" stroke="none" />
<rect x="250.8" y="623" width="14.2" height="10.8" fill="#231815" stroke="none" />
<rect x="197.9" y="634.2" width="63.8" height="8.4" fill="#fff" stroke="#231815" stroke-width="1.1" />
<clipPath id="c33"><path d="M200.3,634.2H209.7V642.6H200.3Z"/></clipPath>
<path d="M200.3,634.2H209.7V642.6H200.3Z" fill="#231815" stroke="none" />
<path d="M198.4,633V644M201.2,633V644M204,633V644M206.8,633V644M209.6,633V644M212.4,633V644" fill="none" stroke="#fff" stroke-width="1.6" clip-path="url(#c33)"/>
<path d="M200.3,634.2H209.7V642.6H200.3Z" fill="none" stroke="#231815" stroke-width="1" />
<clipPath id="c34"><path d="M247.3,634.2H256.7V642.6H247.3Z"/></clipPath>
<path d="M247.3,634.2H256.7V642.6H247.3Z" fill="#231815" stroke="none" />
<path d="M245.4,633V644M248.2,633V644M251,633V644M253.8,633V644M256.6,633V644M259.4,633V644" fill="none" stroke="#fff" stroke-width="1.6" clip-path="url(#c34)"/>
<path d="M247.3,634.2H256.7V642.6H247.3Z" fill="none" stroke="#231815" stroke-width="1" />
<polygon points="214.5,642.2 217,637.6 240,637.6 242.5,642.2" fill="#fff" stroke="#231815" stroke-width="1" />
<path d="M215.4,591.6 L215.4,623.5 Q215.4,626.8 219,626.8 L238,626.8 Q241.6,626.8 241.6,623.5 L241.6,591.6 Z" fill="#fff" stroke="none" />
<path d="M215.4,591 L215.4,623.5 Q215.4,626.8 219,626.8 L238,626.8 Q241.6,626.8 241.6,623.5 L241.6,591" fill="none" stroke="#231815" stroke-width="1.2" />
<rect x="215.4" y="598.5" width="26.2" height="15.6" fill="#fff" stroke="#231815" stroke-width="1.3" />
<circle cx="228.5" cy="606.1" r="5.6" fill="#fff" stroke="#231815" stroke-width="2.1"/>
<line x1="221.4" y1="606.1" x2="235.8" y2="606.1" stroke="#231815" stroke-width="1.3" />
<line x1="228.6" y1="0.9" x2="228.6" y2="647.6" stroke="#231815" stroke-width="1" stroke-dasharray="15.6,13.7"/>

<g stroke="#231815" stroke-width="2.1" fill="none" stroke-linejoin="miter">
<rect x="577.3" y="586.9" width="207.7" height="103.2"/>
<line x1="681" y1="586.9" x2="681" y2="690.1"/>
<line x1="629.1" y1="586.9" x2="629.1" y2="668"/>
<polygon points="624.1,662.8 634.1,662.8 629.1,690.4" fill="#231815" stroke="none"/>
<line x1="733.2" y1="586.9" x2="733.2" y2="618" stroke-width="2"/>
<line x1="722.9" y1="618" x2="743.4" y2="618" stroke-width="2"/>
<line x1="733.2" y1="690.1" x2="733.2" y2="659.2" stroke-width="2"/>
<line x1="722.9" y1="659.2" x2="743.4" y2="659.2" stroke-width="2"/>
<line x1="453" y1="638.5" x2="494.3" y2="638.5" stroke-width="1.8"/>
<line x1="535.6" y1="638.5" x2="577.3" y2="638.5" stroke-width="1.8"/>
<polygon points="494.3,617.6 494.3,659.4 535.4,638.5" stroke-width="1.8"/>
<polyline points="785.2,636.6 794.3,611.6 813.1,665 832.1,611.6 851,664.6 860.2,638.7" stroke-width="1.7"/>
</g>

</svg>

<div class="ln" style="top:11.5px;font-size:33.6px;transform:scaleY(1.045);"><span class="w" style="left:426.65px;letter-spacing:0.56px;">N.C.</span> <span class="w" style="left:505.05px;letter-spacing:-0.08px;">NORMALMENTE</span> <span class="w" style="left:774.79px;letter-spacing:0.03px;">CHIUSA</span> <span class="w" style="left:911.06px;letter-spacing:-0.48px;">SOPRA</span></div>
<div class="ln" style="top:52.3px;font-size:33.6px;transform:scaleY(1.045);"><span class="w" style="left:426.65px;letter-spacing:0.56px;">N.C.</span> <span class="w" style="left:505.05px;letter-spacing:0.06px;">NORMALLY</span> <span class="w" style="left:696.39px;letter-spacing:-0.39px;">CLOSED</span> <span class="w" style="left:843.59px;letter-spacing:0.00px;">-</span> <span class="w" style="left:867.85px;letter-spacing:-0.60px;">ABOVE</span> <span class="w" style="left:989.25px;letter-spacing:-0.60px;">THE</span> <span class="w" style="left:1064.85px;letter-spacing:0.21px;">PLUG</span></div>
<div class="t cj" style="left:430px;top:95px;font-size:32.5px;letter-spacing:4.7px;">常闭有水锤</div>
<div class="t lb" style="left:647px;top:92px;font-size:38px;">“</div>
<div class="t" style="left:666px;top:95px;font-size:35px;clip-path:polygon(0 0,100% 0,100% 26.5px,12.1px 26.5px,12.1px 100%,8.9px 100%,8.9px 26.5px,0 26.5px);">1</div>
<div class="t lb" style="left:684.5px;top:92px;font-size:38px;">”</div>
<div class="t cj" style="left:723px;top:95px;font-size:32.5px;letter-spacing:4.9px;">为入口</div>
<div class="ln" style="top:256px;font-size:33.6px;"><span class="w" style="left:429.75px;letter-spacing:0.00px;">A</span> <span class="w" style="left:461.84px;letter-spacing:0.00px;">=</span> <span class="w" style="left:492.54px;letter-spacing:0.60px;">scarico</span> <span class="w" style="left:613.43px;letter-spacing:0.38px;">discharge</span></div>
<div class="t cj" style="left:778.5px;top:260px;font-size:32.5px;letter-spacing:4.2px;">排气口</div>
<div class="ln" style="top:297.5px;font-size:33.6px;"><span class="w" style="left:429.95px;letter-spacing:0.00px;">B</span> <span class="w" style="left:463.44px;letter-spacing:0.00px;">=</span> <span class="w" style="left:494.40px;letter-spacing:0.14px;">alimentazione</span> <span class="w" style="left:713.24px;letter-spacing:1.01px;">power</span></div>
<div class="t cj" style="left:822.5px;top:301.5px;font-size:32.5px;letter-spacing:4.9px;">气源入口</div>
<div class="t lb" style="left:366px;top:158px;font-size:34.5px;">A</div>
<div class="t lb" style="left:366px;top:216px;font-size:34.5px;">B</div>
<div class="t lb" style="left:101px;top:517px;font-size:34.5px;clip-path:polygon(0 0,100% 0,100% 24.5px,13.1px 24.5px,13.1px 100%,8.0px 100%,8.0px 24.5px,0 24.5px);">1</div>
<div class="t lb" style="left:263px;top:672px;font-size:34.5px;">2</div>
<div class="t lb" style="left:723px;top:545px;font-size:30.3px;clip-path:polygon(0 0,100% 0,100% 21.5px,12.1px 21.5px,12.1px 100%,7.0px 100%,7.0px 21.5px,0 21.5px);">1</div>
<div class="t lb" style="left:726px;top:697px;font-size:30.3px;">2</div>

</body>
</html>
